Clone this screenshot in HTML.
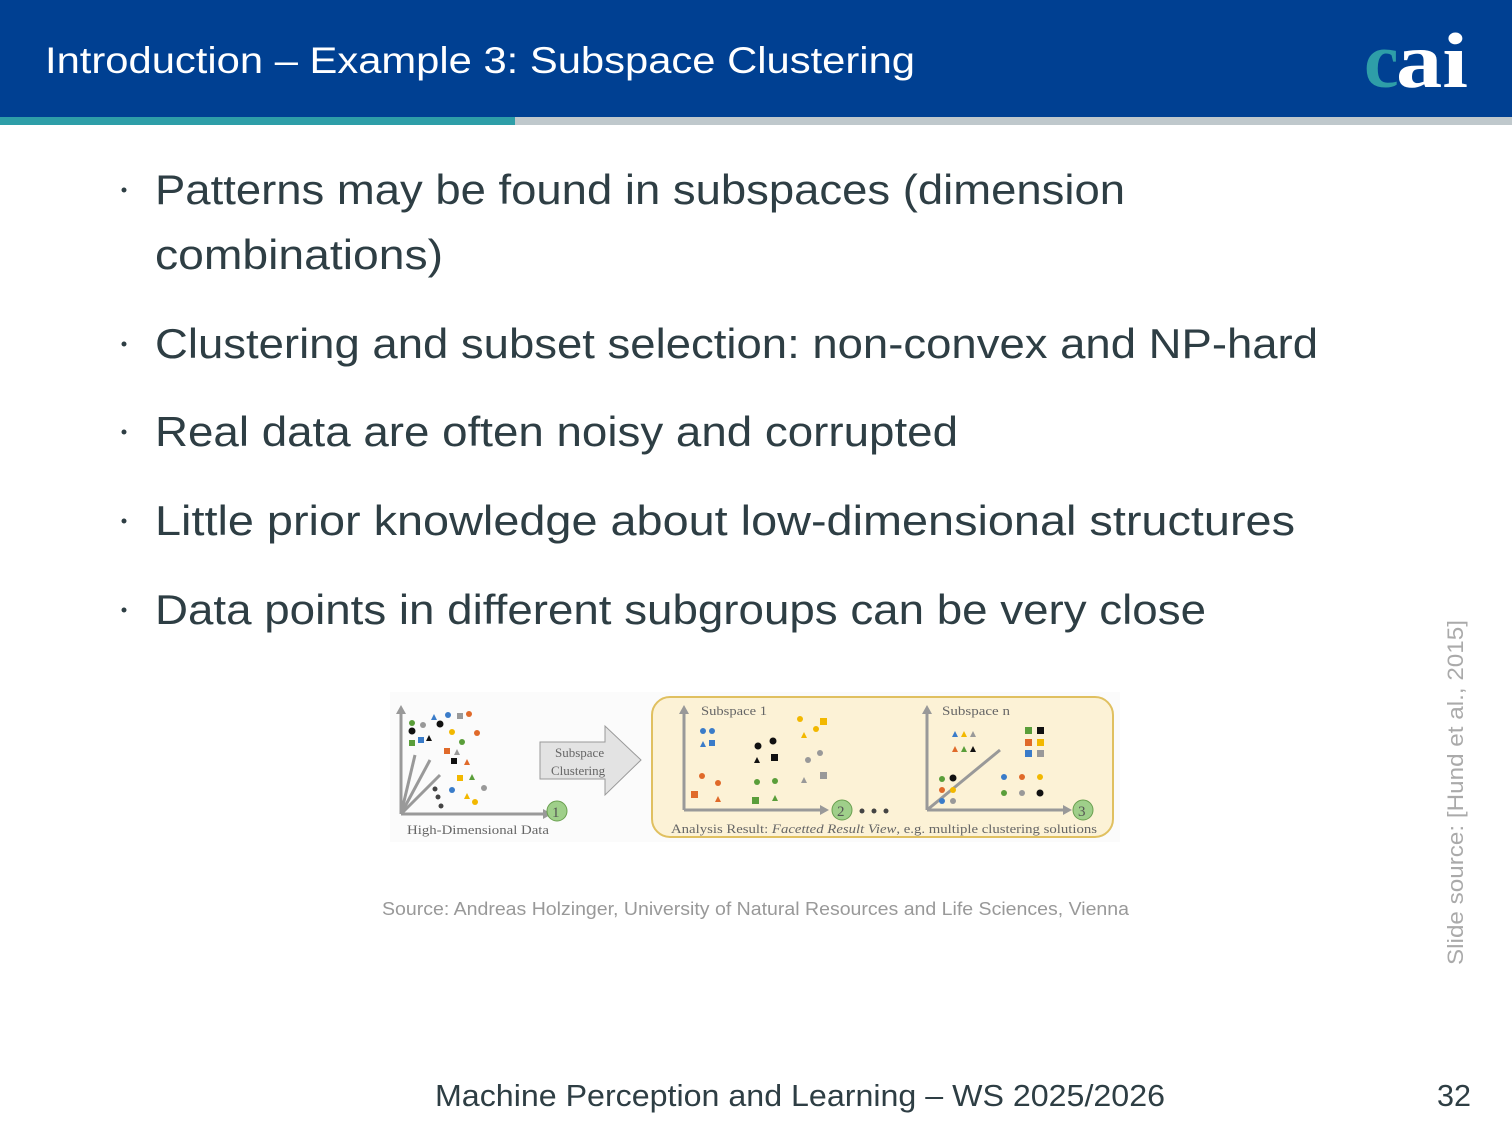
<!DOCTYPE html>
<html><head><meta charset="utf-8"><style>
html,body{margin:0;padding:0;background:#fff;}
svg{display:block;}
</style></head><body>
<svg width="1512" height="1134" viewBox="0 0 1512 1134" xmlns="http://www.w3.org/2000/svg" font-family="Liberation Sans, sans-serif">
<rect x="0" y="0" width="1512" height="118" fill="#004092"/>
<rect x="0" y="117" width="515" height="8" fill="#2e9ea8"/>
<rect x="515" y="117" width="997" height="8" fill="#bfc8cc"/>
<text x="45" y="73" fill="#fff" font-size="37" textLength="870" lengthAdjust="spacingAndGlyphs">Introduction – Example 3: Subspace Clustering</text>
<text x="1364" y="87" font-family="Liberation Serif, serif" font-weight="bold" font-size="78" fill="#2e9ea8">c</text>
<text x="1396" y="87" font-family="Liberation Serif, serif" font-weight="bold" font-size="78" fill="#fff" textLength="72" lengthAdjust="spacingAndGlyphs">ai</text>

<g fill="#2e3e44" font-size="42">
<circle cx="124" cy="190" r="2.5"/>
<text x="155" y="204" textLength="970" lengthAdjust="spacingAndGlyphs">Patterns may be found in subspaces (dimension</text>
<text x="155" y="269" textLength="288" lengthAdjust="spacingAndGlyphs">combinations)</text>
<circle cx="124" cy="344" r="2.5"/>
<text x="155" y="358" textLength="1163" lengthAdjust="spacingAndGlyphs">Clustering and subset selection: non-convex and NP-hard</text>
<circle cx="124" cy="432" r="2.5"/>
<text x="155" y="446" textLength="803" lengthAdjust="spacingAndGlyphs">Real data are often noisy and corrupted</text>
<circle cx="124" cy="521" r="2.5"/>
<text x="155" y="535" textLength="1140" lengthAdjust="spacingAndGlyphs">Little prior knowledge about low-dimensional structures</text>
<circle cx="124" cy="610" r="2.5"/>
<text x="155" y="624" textLength="1051" lengthAdjust="spacingAndGlyphs">Data points in different subgroups can be very close</text>
</g>

<!-- figure -->
<rect x="390" y="692" width="730" height="150" fill="#fbfbfb"/>
<g stroke="#999" stroke-width="3" fill="none">
<line x1="401" y1="814" x2="401" y2="712"/><line x1="401" y1="814" x2="545" y2="814"/>
<line x1="401" y1="814" x2="415" y2="755"/><line x1="401" y1="814" x2="430" y2="760"/><line x1="401" y1="814" x2="440" y2="775"/>
</g>
<polygon points="396,714 401,705 406,714" fill="#999"/><polygon points="543,809 552,814 543,819" fill="#999"/>
<circle cx="557" cy="811" r="10" fill="#9fcf8a" stroke="#6aa050"/><text x="552" y="817" font-family="Liberation Serif,serif" font-size="15" fill="#555">1</text>
<text x="407" y="834" font-family="Liberation Serif,serif" font-size="13" fill="#666" textLength="142" lengthAdjust="spacingAndGlyphs">High-Dimensional Data</text>
<polygon points="540,742 605,742 605,726 641,760 605,795 605,779 540,779" fill="#e3e3e3" stroke="#999"/>
<text x="555" y="757" font-family="Liberation Serif,serif" font-size="13" fill="#666">Subspace</text>
<text x="551" y="775" font-family="Liberation Serif,serif" font-size="13" fill="#666">Clustering</text>
<rect x="652" y="697" width="461" height="140" rx="18" fill="#fcf2d6" stroke="#e0c060" stroke-width="2"/>
<g stroke="#999" stroke-width="3" fill="none">
<line x1="684" y1="810" x2="684" y2="712"/><line x1="684" y1="810" x2="822" y2="810"/>
<line x1="927" y1="810" x2="927" y2="712"/><line x1="927" y1="810" x2="1065" y2="810"/><line x1="927" y1="810" x2="1000" y2="750"/>
</g>
<polygon points="679,714 684,705 689,714" fill="#999"/><polygon points="820,805 829,810 820,815" fill="#999"/>
<polygon points="922,714 927,705 932,714" fill="#999"/><polygon points="1063,805 1072,810 1063,815" fill="#999"/>
<circle cx="842" cy="810" r="10" fill="#9fcf8a" stroke="#6aa050"/><text x="837" y="816" font-family="Liberation Serif,serif" font-size="15" fill="#555">2</text>
<circle cx="1083" cy="810" r="10" fill="#9fcf8a" stroke="#6aa050"/><text x="1078" y="816" font-family="Liberation Serif,serif" font-size="15" fill="#555">3</text>
<g fill="#444"><circle cx="862" cy="811" r="2.5"/><circle cx="874" cy="811" r="2.5"/><circle cx="886" cy="811" r="2.5"/></g>
<text x="701" y="715" font-family="Liberation Serif,serif" font-size="13" fill="#666" textLength="66" lengthAdjust="spacingAndGlyphs">Subspace 1</text>
<text x="942" y="715" font-family="Liberation Serif,serif" font-size="13" fill="#666" textLength="68" lengthAdjust="spacingAndGlyphs">Subspace n</text>
<text x="671" y="833" font-family="Liberation Serif,serif" font-size="13" fill="#666" textLength="426" lengthAdjust="spacingAndGlyphs">Analysis Result: <tspan font-style="italic">Facetted Result View</tspan>, e.g. multiple clustering solutions</text>
<!-- points left -->
<g>
<circle cx="412" cy="723" r="3" fill="#5a9e3a"/><circle cx="412" cy="731" r="3.5" fill="#111"/><circle cx="423" cy="725" r="3" fill="#999"/>
<polygon points="431,720 434,714 437,720" fill="#3a7cc9"/><circle cx="448" cy="715" r="3" fill="#3a7cc9"/><rect x="457" y="713" width="6" height="6" fill="#999"/><circle cx="469" cy="714" r="3" fill="#e06a2a"/>
<circle cx="440" cy="724" r="3.5" fill="#111"/><circle cx="452" cy="732" r="3" fill="#f2b800"/><circle cx="477" cy="733" r="3" fill="#e06a2a"/>
<rect x="409" y="740" width="6" height="6" fill="#5a9e3a"/><rect x="418" y="737" width="6" height="6" fill="#3a7cc9"/><polygon points="426,741 429,735 432,741" fill="#111"/>
<circle cx="462" cy="742" r="3" fill="#5a9e3a"/><rect x="444" y="748" width="6" height="6" fill="#e06a2a"/><polygon points="454,755 457,749 460,755" fill="#999"/>
<rect x="451" y="758" width="6" height="6" fill="#111"/><polygon points="464,765 467,759 470,765" fill="#e06a2a"/>
<rect x="457" y="775" width="6" height="6" fill="#f2b800"/><polygon points="469,780 472,774 475,780" fill="#5a9e3a"/>
<circle cx="435" cy="789" r="2.5" fill="#444"/><circle cx="438" cy="797" r="2.5" fill="#444"/><circle cx="441" cy="806" r="2.5" fill="#444"/>
<circle cx="452" cy="790" r="3" fill="#3a7cc9"/><polygon points="464,799 467,793 470,799" fill="#f2b800"/><circle cx="475" cy="802" r="3" fill="#f2b800"/><circle cx="484" cy="788" r="3" fill="#999"/>
</g>
<!-- subspace 1 -->
<g>
<circle cx="703" cy="731" r="3" fill="#3a7cc9"/><circle cx="712" cy="731" r="3" fill="#3a7cc9"/><polygon points="700,747 703,741 706,747" fill="#3a7cc9"/><rect x="709" y="740" width="6" height="6" fill="#3a7cc9"/>
<circle cx="758" cy="746" r="3.5" fill="#111"/><circle cx="773" cy="741" r="3.5" fill="#111"/><polygon points="754,763 757,757 760,763" fill="#111"/><rect x="771" y="754" width="7" height="7" fill="#111"/>
<circle cx="800" cy="719" r="3" fill="#f2b800"/><circle cx="816" cy="729" r="3" fill="#f2b800"/><rect x="820" y="718" width="7" height="7" fill="#f2b800"/><polygon points="801,738 804,732 807,738" fill="#f2b800"/>
<circle cx="820" cy="753" r="3" fill="#999"/><circle cx="808" cy="760" r="3" fill="#999"/><polygon points="801,783 804,777 807,783" fill="#999"/><rect x="820" y="772" width="7" height="7" fill="#999"/>
<circle cx="702" cy="776" r="3" fill="#e06a2a"/><circle cx="718" cy="783" r="3" fill="#e06a2a"/><rect x="691" y="791" width="7" height="7" fill="#e06a2a"/><polygon points="715,802 718,796 721,802" fill="#e06a2a"/>
<circle cx="757" cy="782" r="3" fill="#5a9e3a"/><circle cx="775" cy="781" r="3" fill="#5a9e3a"/><rect x="752" y="797" width="7" height="7" fill="#5a9e3a"/><polygon points="772,801 775,795 778,801" fill="#5a9e3a"/>
</g>
<!-- subspace n -->
<g>
<polygon points="952,737 955,731 958,737" fill="#3a7cc9"/><polygon points="961,737 964,731 967,737" fill="#f2b800"/><polygon points="970,737 973,731 976,737" fill="#999"/>
<polygon points="952,752 955,746 958,752" fill="#e06a2a"/><polygon points="961,752 964,746 967,752" fill="#5a9e3a"/><polygon points="970,752 973,746 976,752" fill="#111"/>
<rect x="1025" y="727" width="7" height="7" fill="#5a9e3a"/><rect x="1037" y="727" width="7" height="7" fill="#111"/>
<rect x="1025" y="739" width="7" height="7" fill="#e06a2a"/><rect x="1037" y="739" width="7" height="7" fill="#f2b800"/>
<rect x="1025" y="750" width="7" height="7" fill="#3a7cc9"/><rect x="1037" y="750" width="7" height="7" fill="#999"/>
<circle cx="942" cy="779" r="3" fill="#5a9e3a"/><circle cx="953" cy="778" r="3.5" fill="#111"/><circle cx="942" cy="790" r="3" fill="#e06a2a"/><circle cx="953" cy="790" r="3" fill="#f2b800"/><circle cx="942" cy="801" r="3" fill="#3a7cc9"/><circle cx="953" cy="801" r="3" fill="#999"/>
<circle cx="1004" cy="777" r="3" fill="#3a7cc9"/><circle cx="1022" cy="777" r="3" fill="#e06a2a"/><circle cx="1040" cy="777" r="3" fill="#f2b800"/>
<circle cx="1004" cy="793" r="3" fill="#5a9e3a"/><circle cx="1022" cy="793" r="3" fill="#999"/><circle cx="1040" cy="793" r="3.5" fill="#111"/>
</g>

<text x="382" y="915" font-size="18" fill="#999" textLength="747" lengthAdjust="spacingAndGlyphs">Source: Andreas Holzinger, University of Natural Resources and Life Sciences, Vienna</text>
<text transform="translate(1463,965) rotate(-90)" font-size="22" fill="#aaa" textLength="345" lengthAdjust="spacingAndGlyphs">Slide source: [Hund et al., 2015]</text>
<text x="435" y="1106" font-size="31" fill="#2e3e44" textLength="730" lengthAdjust="spacingAndGlyphs">Machine Perception and Learning – WS 2025/2026</text>
<text x="1437" y="1106" font-size="31" fill="#2e3e44" textLength="34" lengthAdjust="spacingAndGlyphs">32</text>
</svg>
</body></html>
